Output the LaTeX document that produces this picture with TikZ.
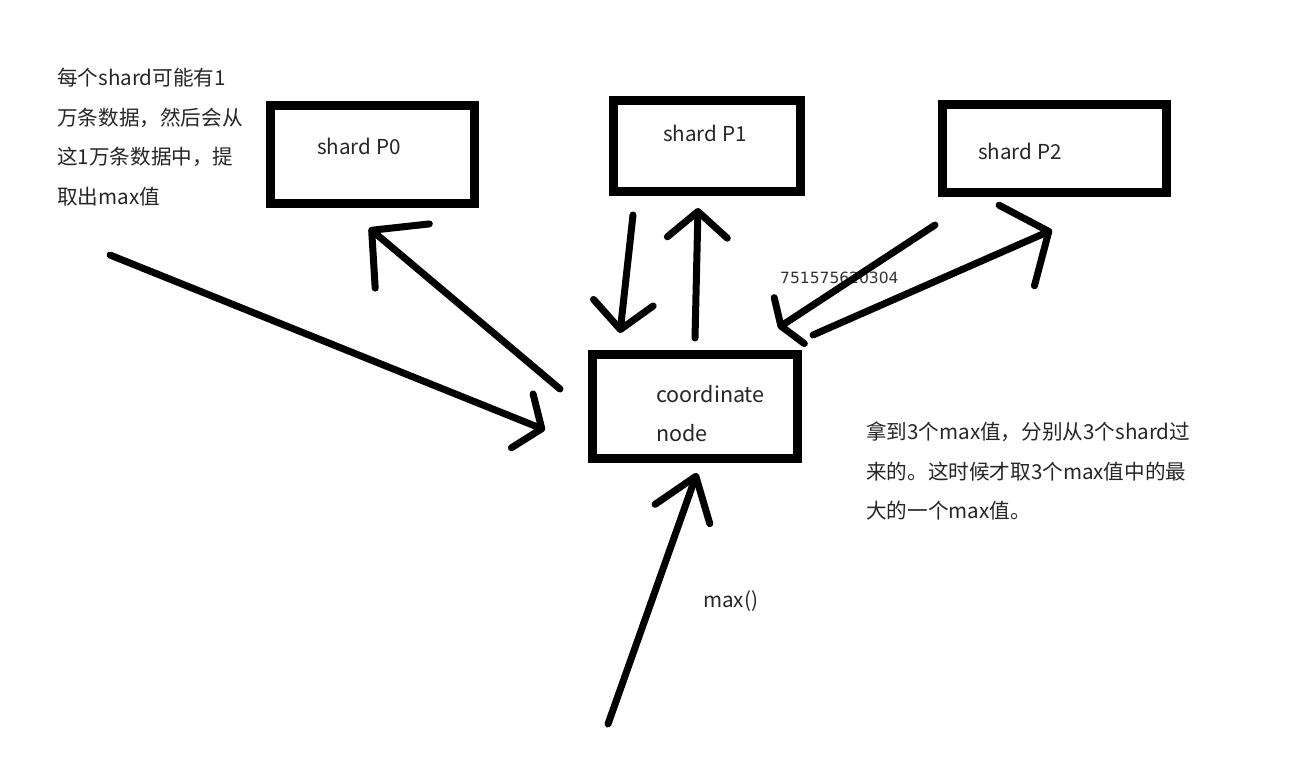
\documentclass[tikz,border=0pt]{standalone}
\usepackage{fontspec}
\setmainfont{Noto Sans CJK SC}
\newfontfamily\markfont{DejaVu Sans}
\usetikzlibrary{arrows.meta}

\begin{document}
\begin{tikzpicture}[x=1pt,y=-1pt,
  shardbox/.style={draw,line width=9pt,inner sep=0pt},
  txt/.style={anchor=west,inner sep=0pt,align=left,text=black!85,font=\fontsize{20.6}{39.5}\selectfont},
  stroke/.style={line width=7pt,line cap=round,line join=round},
  barb/.style 2 args={stroke,-{Straight Barb[length=#1,width=#2,round]}}]
\path[use as bounding box,fill=white] (0,0) rectangle (1313,761);
% boxes
\node[shardbox,minimum width=204,minimum height=98] (p0) at (372,154.5) {};
\node[shardbox,minimum width=187,minimum height=91] (p1) at (707,146) {};
\node[shardbox,minimum width=224,minimum height=88] (p2) at (1054.5,148.5) {};
\node[shardbox,minimum width=205,minimum height=104] (coord) at (695,406.5) {};
% texts
\node[txt] (p0txt) at (317,146) {shard P0};
\node[txt] (p1txt) at (663,133) {shard P1};
\node[txt] (p2txt) at (978,151) {shard P2};
\node[txt,font=\fontsize{21.5}{39}\selectfont] (coordtxt) at (656,413.5) {coordinate\\node};
\node[txt] (lefttxt) at (57,137) {每个shard可能有1\\万条数据，然后会从\\这1万条数据中，提\\取出max值};
\node[txt] (righttxt) at (866,471) {拿到3个max值，分别从3个shard过\\来的。这时候才取3个max值中的最\\大的一个max值。};
\node[txt] (maxtxt) at (703,601) {max()};
\node[anchor=west,inner sep=0pt,text=black!80,font=\markfont\fontsize{15.5}{18}\selectfont] (mark) at (780,278) {751575620304};
% arrow ends
\coordinate (leftA) at (110,255);   \coordinate (leftB) at (545,430);
\coordinate (p0A) at (560,389);     \coordinate (p0B) at (369,228);
\coordinate (downA) at (633,215);   \coordinate (downB) at (620,333);
\coordinate (upA) at (695,338);     \coordinate (upB) at (698,208);
\coordinate (p2A) at (935,225);     \coordinate (p2B) at (778,328);
\coordinate (backA) at (813,335);   \coordinate (backB) at (1052,230);
\coordinate (maxA) at (608,724);    \coordinate (maxB) at (697,473);
% arrows
\draw[barb={21pt}{58pt}] (leftA) -- (leftB);
\draw[barb={40pt}{84pt}] (p0A) -- (p0B);
\draw[barb={27pt}{60pt}] (downA) -- (downB);
\draw[barb={26pt}{60pt}] (upA) -- (upB);
\draw[barb={10pt}{55pt}] (p2A) -- (p2B);
\draw[barb={35pt}{88pt}] (backA) -- (backB);
\draw[barb={40pt}{58pt}] (maxA) -- (maxB);
\end{tikzpicture}
\end{document}
